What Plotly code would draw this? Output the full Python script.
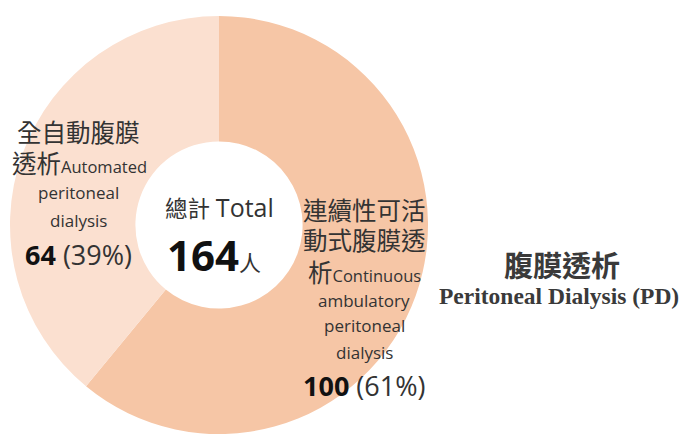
import plotly.graph_objects as go

# data
labels = ["連續性可活動式腹膜透析 Continuous ambulatory peritoneal dialysis",
          "全自動腹膜透析 Automated peritoneal dialysis"]
values = [100, 64]
colors = ["#F6C6A6", "#FBE0D0"]
total = sum(values)
pct = [round(v * 100 / total) for v in values]

W, H = 684, 434
FONT = "Open Sans, Noto Sans CJK TC, sans-serif"
CJK = "Noto Sans CJK TC, sans-serif"


def px(x, y):
    return x / W, (H - y) / H


fig = go.Figure()
fig.add_trace(
    go.Pie(
        labels=labels,
        values=values,
        hole=0.4,
        sort=False,
        direction="clockwise",
        rotation=0,
        marker=dict(colors=colors, line=dict(width=0)),
        textinfo="none",
        hoverinfo="label+value+percent",
        showlegend=False,
        domain=dict(x=[10 / W, 428 / W], y=[0, 418 / H]),
    )
)

small = "<span style='font-size:16.5px'>%s</span>"


def note(x, y, text, size, color="#333333", family=FONT):
    xp, yp = px(x, y)
    fig.add_annotation(
        x=xp, y=yp, xref="paper", yref="paper", text=text, showarrow=False,
        xanchor="center", yanchor="middle",
        font=dict(size=size, color=color, family=family),
    )


# left slice label (APD)
note(78, 133, "全自動腹膜", 24.5)
note(79, 163, "透析" + small % "Automated", 24.5)
note(78, 192, "peritoneal", 17)
note(78, 220, "dialysis", 17)
note(78, 255, "<b style='color:#111'>%d</b> (%d%%)" % (values[1], pct[1]), 27)

# right slice label (CAPD)
note(365, 210, "連續性可活", 24.5)
note(365, 240, "動式腹膜透", 24.5)
note(364, 272, "析" + small % "Continuous", 24.5)
note(364, 300, "ambulatory", 17)
note(364, 325, "peritoneal", 17)
note(364, 352, "dialysis", 17)
note(364, 385, "<b style='color:#111'>%d</b> (%d%%)" % (values[0], pct[0]), 27)

# centre total
note(219, 207, "總計 <span style='font-size:25px'>Total</span>", 22.5)
note(214, 254, "<b style='color:#111'>%d</b><span style='font-size:22px'>人</span>" % total, 42)

# side title
note(562, 264, "<b>腹膜透析</b>", 29, color="#3a3a3a", family=CJK)
note(559, 296, "<b>Peritoneal Dialysis (PD)</b>", 23.5, color="#3a3a3a",
     family="Liberation Serif, serif")

fig.update_layout(
    width=W,
    height=H,
    margin=dict(l=0, r=0, t=0, b=0),
    paper_bgcolor="white",
    plot_bgcolor="white",
)

fig.write_html("out.html", config={"displayModeBar": False},
               post_script="document.body.style.margin='0';")
